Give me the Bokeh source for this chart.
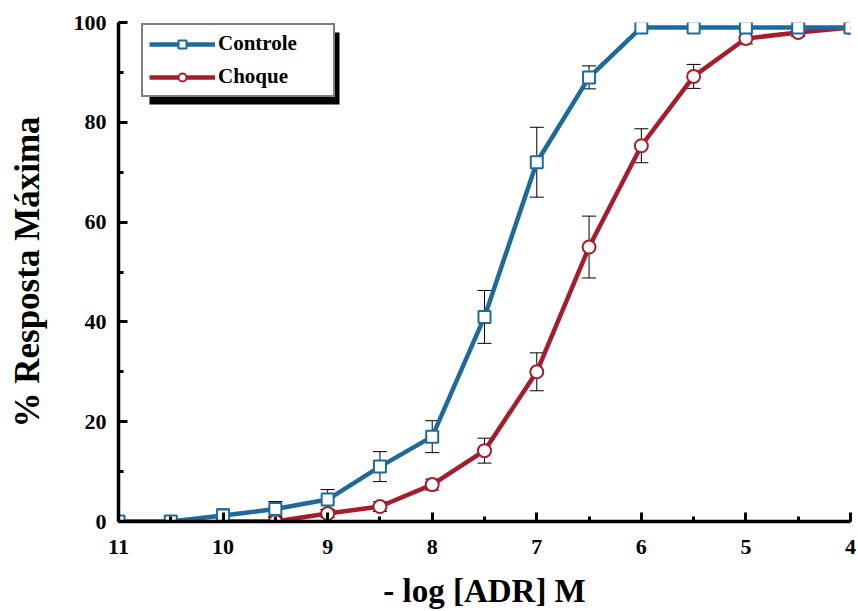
from bokeh.plotting import figure
from bokeh.models import (Range1d, SingleIntervalTicker, ColumnDataSource, Whisker, TeeHead,
                          Legend, LegendItem, BoxAnnotation)
from bokeh.embed import file_html
from bokeh.resources import INLINE

# ---- data ----
ctrl_x = [11, 10.5, 10, 9.5, 9, 8.5, 8, 7.5, 7, 6.5, 6, 5.5, 5, 4.5, 4]
ctrl_y = [0, 0, 1.2, 2.5, 4.4, 11, 17, 41, 72, 89, 99, 99, 99, 99, 99]
ctrl_err = [0, 0, 1.3, 1.5, 2.0, 3.0, 3.2, 5.3, 7.0, 2.3, 0, 0, 0, 0, 0]

choq_x = [10, 9.5, 9, 8.5, 8, 7.5, 7, 6.5, 6, 5.5, 5, 4.5, 4]
choq_y = [0, 0, 1.6, 3, 7.4, 14.2, 30, 55, 75.3, 89.2, 96.8, 98, 99]
choq_err = [0.8, 0.8, 0.8, 1.0, 1.1, 2.5, 3.8, 6.2, 3.4, 2.4, 1.1, 0.8, 0]

series_names = ["Controle", "Choque"]
x_label = "- log [ADR] M"
y_label = "% Resposta Máxima"

BLUE = "#1f6a9c"
RED = "#a51c2c"
FONT = "Liberation Serif"

p = figure(width=858, height=611, x_range=Range1d(11, 4), y_range=Range1d(0, 100),
           output_backend="svg", toolbar_location=None,
           min_border_left=118, min_border_right=8, min_border_top=22, min_border_bottom=90)
p.outline_line_color = None
p.xgrid.visible = False
p.ygrid.visible = False
p.background_fill_color = "white"
p.border_fill_color = "white"

def err_source(xs, ys, es):
    xx, up, lo = [], [], []
    for x, y, e in zip(xs, ys, es):
        if e > 0:
            xx.append(x)
            up.append(y + e)
            lo.append(max(y - e, 0))
    return ColumnDataSource(dict(x=xx, upper=up, lower=lo))

for xs, ys, es in [(ctrl_x, ctrl_y, ctrl_err), (choq_x, choq_y, choq_err)]:
    w = Whisker(source=err_source(xs, ys, es), base="x", upper="upper", lower="lower",
                dimension="height", line_color="black", line_width=1, level="underlay",
                upper_head=TeeHead(size=14, line_width=1, line_color="black"),
                lower_head=TeeHead(size=14, line_width=1, line_color="black"))
    p.add_layout(w)

l2 = p.line(choq_x, choq_y, line_color=RED, line_width=4.5)
m2 = p.scatter(choq_x, choq_y, marker="circle", size=13, fill_color="white",
               line_color=RED, line_width=2)
l1 = p.line(ctrl_x, ctrl_y, line_color=BLUE, line_width=4.5)
m1 = p.scatter(ctrl_x, ctrl_y, marker="square", size=12, fill_color="white",
               line_color=BLUE, line_width=2)

# axes
for ax in (p.xaxis[0], p.yaxis[0]):
    ax.axis_line_width = 3.5
    ax.axis_line_color = "black"
    ax.major_tick_in = 9
    ax.major_tick_out = 0
    ax.minor_tick_in = 5
    ax.minor_tick_out = 0
    ax.major_tick_line_width = 3
    ax.minor_tick_line_width = 3
    ax.major_label_text_font = FONT
    ax.major_label_text_font_style = "bold"
    ax.major_label_text_font_size = "22px"
    ax.major_label_text_color = "black"
    ax.axis_label_text_font = FONT
    ax.axis_label_text_font_style = "bold"
    ax.axis_label_text_color = "black"

p.xaxis.ticker = SingleIntervalTicker(interval=1, num_minor_ticks=2)
p.yaxis.ticker = SingleIntervalTicker(interval=20, num_minor_ticks=2)
p.xaxis.major_label_standoff = 18
p.yaxis.major_label_standoff = 12
p.xaxis.axis_label = x_label
p.yaxis.axis_label = y_label
p.xaxis.axis_label_text_font_size = "33px"
p.yaxis.axis_label_text_font_size = "35px"
p.xaxis.axis_label_standoff = 16
p.yaxis.axis_label_standoff = 24

# legend shadow
shadow = BoxAnnotation(left=149, right=339, top=32, bottom=104,
                       left_units="canvas", right_units="canvas",
                       top_units="canvas", bottom_units="canvas",
                       fill_color="black", fill_alpha=1, line_color=None)
p.add_layout(shadow)

legend = Legend(items=[LegendItem(label=series_names[0], renderers=[l1, m1]),
                       LegendItem(label=series_names[1], renderers=[l2, m2])],
                location=(23, 424), border_line_color="black", border_line_width=2,
                background_fill_color="white", background_fill_alpha=1,
                padding=6, spacing=8, glyph_width=66, glyph_height=20, label_height=20,
                label_width=109, label_standoff=3, margin=0,
                label_text_font=FONT, label_text_font_style="bold",
                label_text_font_size="21px", label_text_color="black")
p.add_layout(legend, "center")

open("out.html", "w").write(file_html(p, INLINE))
